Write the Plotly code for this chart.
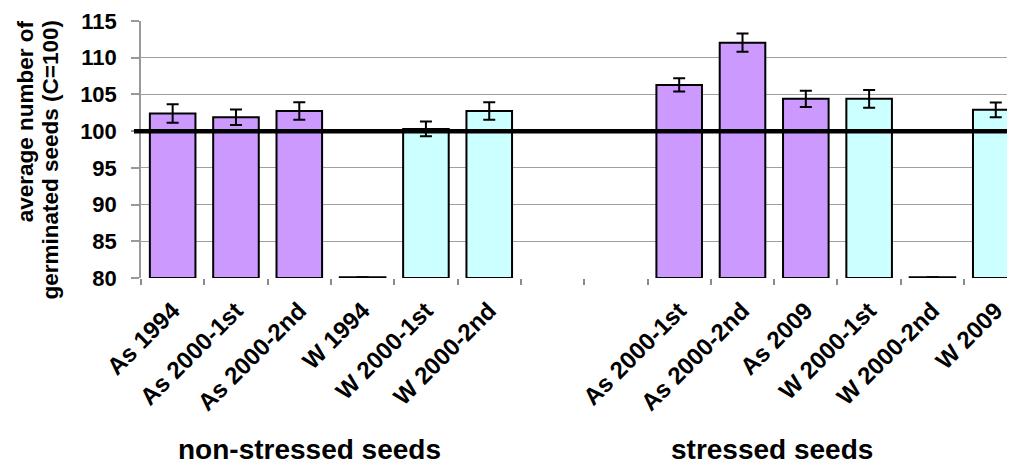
import plotly.graph_objects as go

# ---- data ----
categories = ["As 1994", "As 2000-1st", "As 2000-2nd", "W 1994", "W 2000-1st", "W 2000-2nd",
              "", "",
              "As 2000-1st", "As 2000-2nd", "As 2009", "W 2000-1st", "W 2000-2nd", "W 2009"]
values = [102.4, 101.9, 102.75, 80.1, 100.3, 102.75,
          None, None,
          106.3, 112.05, 104.4, 104.4, 80.1, 102.9]
errors = [1.25, 1.05, 1.2, None, 1.0, 1.2,
          None, None,
          0.9, 1.25, 1.1, 1.2, None, 1.0]
species = ["As", "As", "As", "As", "W", "W",
           None, None,
           "As", "As", "As", "W", "W", "W"]
group_labels = ["non-stressed seeds", "stressed seeds"]
y_title_lines = ["average number of", "germinated seeds (C=100)"]
reference_level = 100
y_min, y_max, y_step = 80, 115, 5

colors = {"As": "#CC99FF", "W": "#CCFFFF", None: "#FFFFFF"}
FONT = "Liberation Sans, Arial, sans-serif"

x = list(range(len(categories)))
heights = [None if v is None else v - y_min for v in values]

fig = go.Figure()
fig.add_trace(go.Bar(
    x=x, y=heights, base=y_min,
    marker=dict(color=[colors[s] for s in species], line=dict(color="black", width=2)),
    error_y=dict(type="data", array=errors, color="black", thickness=2, width=6, visible=True),
    width=0.72,
    showlegend=False,
    hoverinfo="skip",
))

fig.add_shape(type="line", xref="paper", yref="y", x0=-0.008, x1=1.0,
              y0=reference_level, y1=reference_level,
              line=dict(color="black", width=4.5), layer="above")

fig.update_layout(
    template="none",
    width=1015, height=463,
    margin=dict(l=133, r=0, t=13, b=193, pad=0),
    paper_bgcolor="white", plot_bgcolor="white",
    font=dict(family=FONT, color="black"),
    bargap=0.28,
)
fig.update_xaxes(
    automargin=False,
    range=[-0.5, 13.43],
    tickmode="array", tickvals=x, ticktext=categories,
    tickangle=-45, ticks="outside", ticklen=8, tickcolor="rgba(0,0,0,0)",
    showgrid=False, zeroline=False, showline=False,
    tickfont=dict(family=FONT, size=24, weight="bold", color="black"),
    minor=dict(tickmode="array", tickvals=[i - 0.5 for i in range(len(categories) + 1)],
               ticks="outside", ticklen=6, tickcolor="#8a8a8a", tickwidth=1.5, showgrid=False),
)
fig.update_yaxes(
    automargin=False,
    range=[y_min, y_max], tick0=y_min, dtick=y_step, tickmode="linear",
    showgrid=True, gridcolor="#a0a0a0", gridwidth=1.2,
    showline=True, linecolor="#999999", linewidth=1.5,
    ticks="outside", ticklen=8, tickcolor="#999999", tickwidth=1.5,
    ticklabelstandoff=10,
    zeroline=False,
    tickfont=dict(family=FONT, size=22, weight="bold", color="black"),
)

# y-axis title as two rotated lines
for line_text, xp in zip(y_title_lines, [-0.131, -0.1025]):
    fig.add_annotation(text=line_text, xref="paper", yref="paper", x=xp, y=1.012,
                       xanchor="center", yanchor="top", textangle=-90, showarrow=False,
                       font=dict(family=FONT, size=22.5, weight="bold", color="black"))

# group labels
for label, xp in zip(group_labels, [0.1916, 0.7149]):
    fig.add_annotation(text=label, xref="paper", yref="paper", x=xp, y=-0.667,
                       xanchor="center", yanchor="middle", showarrow=False,
                       font=dict(family=FONT, size=28, weight="bold", color="black"))

fig.write_html("out.html")
